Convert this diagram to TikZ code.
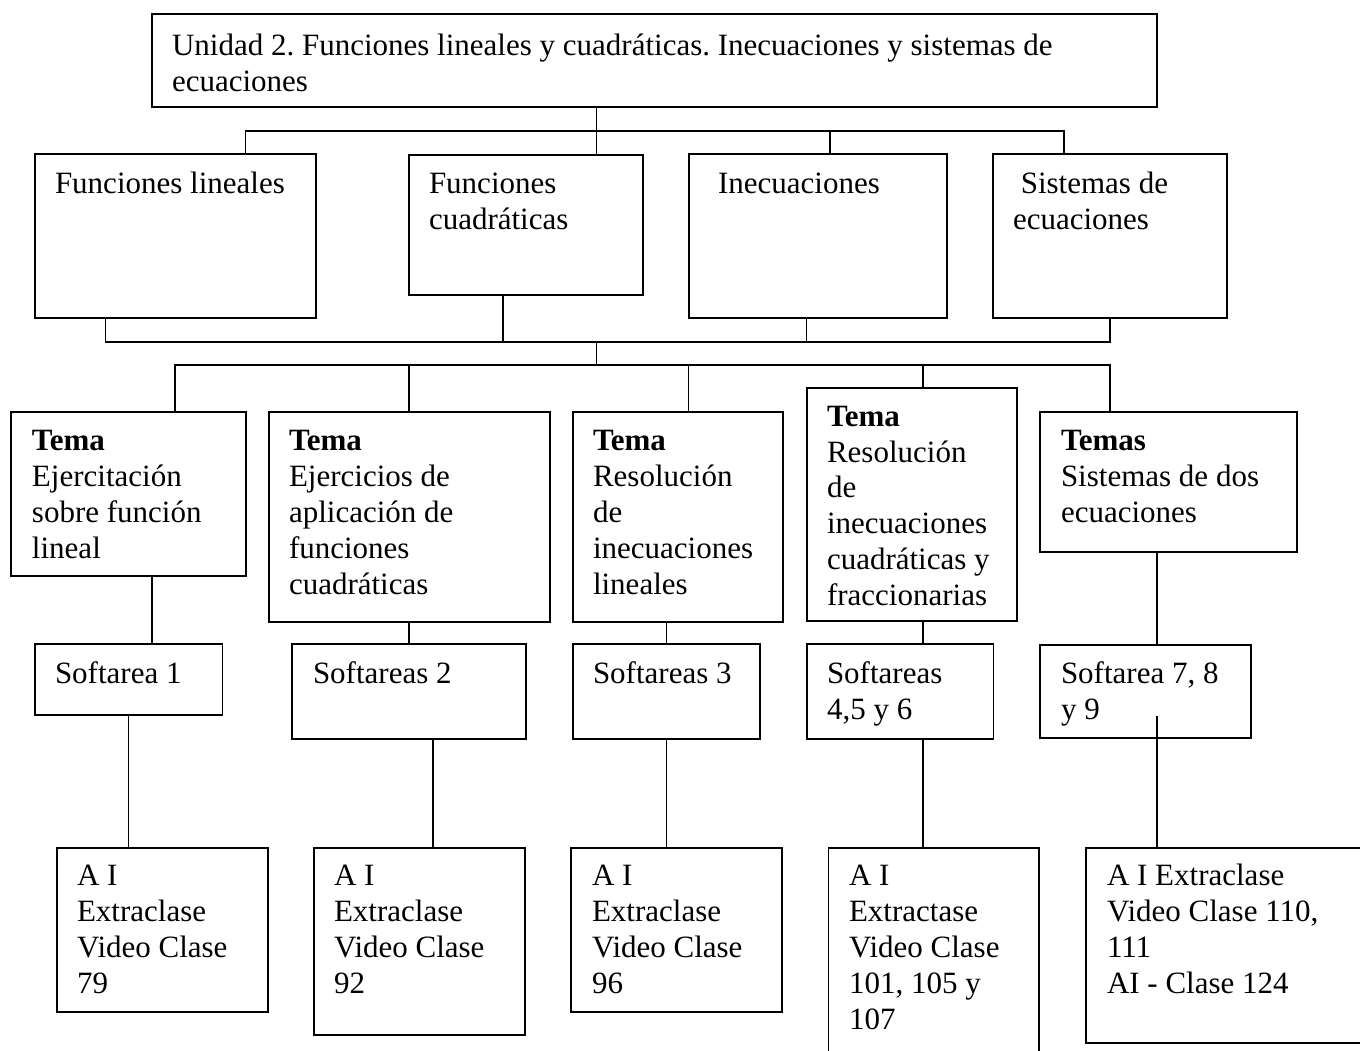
\documentclass[tikz,border=0pt]{standalone}
\usepackage{fontspec}
\setmainfont{Liberation Serif}
\usetikzlibrary{fit}
\frenchspacing
\newcommand\ml[1]{\vtop{\baselineskip=18pt\lineskip=0pt\lineskiplimit=-50pt\halign{##\hfil\cr#1\crcr}}}
\newcommand\mlt[1]{\vtop{\baselineskip=17.85pt\lineskip=0pt\lineskiplimit=-50pt\halign{##\hfil\cr#1\crcr}}}
\tikzset{
  boxn/.style={draw=black, line width=0.9pt, inner sep=0pt, outer sep=0pt, rectangle},
  txt/.style={anchor=base west, inner sep=0pt, outer sep=0pt, font=\fontsize{15.5pt}{18pt}\selectfont},
  conn/.style={draw=black, line width=0.9pt}
}
\begin{document}
\begin{tikzpicture}[x=0.5pt, y=-0.5pt]
\fill[white] (0,0) rectangle (1360,1050);
\useasboundingbox (0,0) rectangle (1360,1050);

% boxes
\node[boxn, fit={(152,14)(1157,107)}] (U) {};
\node[boxn, fit={(35,154)(316,318)}] (FL) {};
\node[boxn, fit={(409,155)(643,295)}] (FC) {};
\node[boxn, fit={(689,154)(947,318)}] (IN) {};
\node[boxn, fit={(993,154)(1227,318)}] (SI) {};
\node[boxn, fit={(11,412)(246,576)}] (T1) {};
\node[boxn, fit={(269,412)(550,622)}] (T2) {};
\node[boxn, fit={(573,412)(783,622)}] (T3) {};
\node[boxn, fit={(807,388)(1017,621)}] (T4) {};
\node[boxn, fit={(1040,412)(1297,552)}] (T5) {};
\node[boxn, fit={(35,644)(222.5,715)}] (S1) {};
\node[boxn, fit={(292,644)(526,739)}] (S2) {};
\node[boxn, fit={(573,644)(760,739)}] (S3) {};
\node[boxn, fit={(807,644)(993.5,739)}] (S4) {};
\node[boxn, fit={(1040,645)(1251,738)}] (S5) {};
\node[boxn, fit={(57,848)(268,1012)}] (A1) {};
\node[boxn, fit={(314,848)(525,1035)}] (A2) {};
\node[boxn, fit={(571,848)(782,1012)}] (A3) {};
\node[boxn, fit={(828.5,848)(1039,1070)}] (A4) {};
\node[boxn, fit={(1086,848)(1380,1043)}] (A5) {};

% texts
\node[txt] (tU) at (172,55) {\ml{Unidad 2. Funciones lineales y cuadráticas. Inecuaciones y sistemas de\cr ecuaciones}};
\node[txt] (tFL) at (55,193) {Funciones lineales};
\node[txt] (tFC) at (429,193) {\ml{Funciones\cr cuadráticas}};
\node[txt] (tIN) at (718,193) {Inecuaciones};
\node[txt] (tSI) at (1013,193) {\ml{\kern3.9pt Sistemas de\cr ecuaciones}};
\node[txt] (tT1) at (32,450) {\ml{\textbf{Tema}\cr Ejercitación\cr sobre función\cr lineal}};
\node[txt] (tT2) at (289,450) {\ml{\textbf{Tema}\cr Ejercicios de\cr aplicación de\cr funciones\cr cuadráticas}};
\node[txt] (tT3) at (593,450) {\ml{\textbf{Tema}\cr Resolución\cr de\cr inecuaciones\cr lineales}};
\node[txt] (tT4) at (827,426.5) {\mlt{\textbf{Tema}\cr Resolución\cr de\cr inecuaciones\cr cuadráticas y\cr fraccionarias}};
\node[txt] (tT5) at (1061,450) {\ml{\textbf{Temas}\cr Sistemas de dos\cr ecuaciones}};
\node[txt] (tS1) at (55,683) {Softarea 1};
\node[txt] (tS2) at (313,683) {Softareas 2};
\node[txt] (tS3) at (593,683) {Softareas 3};
\node[txt] (tS4) at (827,683) {\ml{Softareas\cr 4,5 y 6}};
\node[txt] (tS5) at (1061,683) {\ml{Softarea 7, 8\cr y 9}};
\node[txt] (tA1) at (77,885) {\ml{A I\cr Extraclase\cr Video Clase\cr 79}};
\node[txt] (tA2) at (334,885) {\ml{A I\cr Extraclase\cr Video Clase\cr 92}};
\node[txt] (tA3) at (592,885) {\ml{A I\cr Extraclase\cr Video Clase\cr 96}};
\node[txt] (tA4) at (849,885) {\ml{A I\cr Extractase\cr Video Clase\cr 101, 105 y\cr 107}};
\node[txt] (tA5) at (1107,885) {\ml{A I Extraclase\cr Video Clase 110,\cr 111\cr AI - Clase 124}};

% junction coordinates
\coordinate (cU) at (596.5,131);
\coordinate (b1a) at (245.5,131);
\coordinate (b1c) at (830,131);
\coordinate (b1d) at (1064,131);
\coordinate (b2a) at (105.5,342);
\coordinate (b2b) at (503,342);
\coordinate (b2c) at (806.5,342);
\coordinate (b2d) at (1110,342);
\coordinate (b2m) at (596.5,342);
\coordinate (b3a) at (175,365);
\coordinate (b3b) at (409,365);
\coordinate (b3c) at (688.5,365);
\coordinate (b3d) at (923,365);
\coordinate (b3e) at (1110,365);
\coordinate (b3m) at (596.5,365);
\coordinate (x1) at (152,0);
\coordinate (x2) at (409,0);
\coordinate (x3) at (666.5,0);
\coordinate (x4) at (923,0);
\coordinate (c5) at (1157,716);
\coordinate (y1) at (128.5,0);
\coordinate (y2) at (433,0);

% level 1
\draw[conn] (cU |- U.south) -- (cU |- FC.north);
\draw[conn] (b1a |- FL.north) -- (b1a) -- (b1d) -- (b1d |- SI.north);
\draw[conn] (b1c) -- (b1c |- IN.north);
% level 2
\draw[conn] (b2a |- FL.south) -- (b2a) -- (b2d) -- (b2d |- SI.south);
\draw[conn] (b2b |- FC.south) -- (b2b);
\draw[conn] (b2c |- IN.south) -- (b2c);
\draw[conn] (b2m) -- (b3m);
% level 3
\draw[conn] (b3a |- T1.north) -- (b3a) -- (b3e) -- (b3e |- T5.north);
\draw[conn] (b3b) -- (b3b |- T2.north);
\draw[conn] (b3c) -- (b3c |- T3.north);
\draw[conn] (b3d) -- (b3d |- T4.north);
% tema -> softarea
\draw[conn] (x1 |- T1.south) -- (x1 |- S1.north);
\draw[conn] (x2 |- T2.south) -- (x2 |- S2.north);
\draw[conn] (x3 |- T3.south) -- (x3 |- S3.north);
\draw[conn] (x4 |- T4.south) -- (x4 |- S4.north);
\draw[conn] (c5 |- T5.south) -- (c5 |- S5.north);
% softarea -> AI
\draw[conn] (y1 |- S1.south) -- (y1 |- A1.north);
\draw[conn] (y2 |- S2.south) -- (y2 |- A2.north);
\draw[conn] (x3 |- S3.south) -- (x3 |- A3.north);
\draw[conn] (x4 |- S4.south) -- (x4 |- A4.north);
\draw[conn] (c5) -- (c5 |- A5.north);
\end{tikzpicture}
\end{document}
